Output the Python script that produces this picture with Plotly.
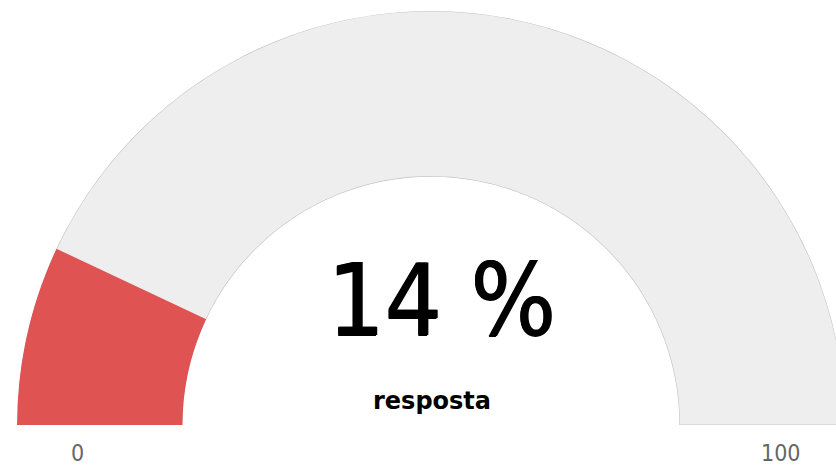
import plotly.graph_objects as go

# ---- data ----
value = 14
min_value = 0
max_value = 100
value_suffix = " %"
series_label = "resposta"
tick_labels = ["0", "100"]

span_deg = 180.0
scale = span_deg / (max_value - min_value)

W, H = 850, 472
ML, MR, MT, MB = 17, 5, 11, 47
PW = W - ML - MR
PH = H - MT - MB


def px_x(px):
    return (px - ML) / PW


def px_y(py):
    return (H - MB - py) / PH


fig = go.Figure()
fig.add_trace(go.Barpolar(
    r=[1], base=[0],
    theta=[(max_value - min_value) * scale / 2],
    width=[(max_value - min_value) * scale],
    marker=dict(color="#EEEEEE", line=dict(color="#C6C6C6", width=1.2)),
    hoverinfo="skip", showlegend=False,
))
fig.add_trace(go.Barpolar(
    r=[1], base=[0],
    theta=[(value - min_value) * scale / 2],
    width=[(value - min_value) * scale],
    marker=dict(color="#DF5353", line=dict(color="#DF5353", width=0)),
    hoverinfo="skip", showlegend=False,
))

fig.update_layout(
    width=W, height=H,
    margin=dict(l=ML, r=MR, t=MT, b=MB, pad=0),
    paper_bgcolor="white",
    polar=dict(
        domain=dict(x=[0, 1], y=[0, 1]),
        sector=[0, 180],
        hole=0.6,
        bgcolor="white",
        angularaxis=dict(rotation=180, direction="clockwise", visible=False,
                         showgrid=False, showline=False, ticks=""),
        radialaxis=dict(range=[0, 1], visible=False, showgrid=False,
                        showline=False, ticks=""),
    ),
    showlegend=False,
)

fig.add_annotation(text=f"{value}{value_suffix}", x=px_x(441), y=px_y(300),
                   xref="paper", yref="paper", showarrow=False,
                   xanchor="center", yanchor="middle",
                   font=dict(family="DejaVu Sans Condensed, DejaVu Sans", size=100, color="#000000",
                             shadow="1.2px 0px 0px #000, 0px 0.6px 0px #000"))
fig.add_annotation(text=f"<b>{series_label}</b>", x=px_x(432), y=px_y(401),
                   xref="paper", yref="paper", showarrow=False,
                   xanchor="center", yanchor="middle",
                   font=dict(family="DejaVu Sans", size=24, color="#000000"))
fig.add_annotation(text=tick_labels[0], x=px_x(77), y=px_y(453),
                   xref="paper", yref="paper", showarrow=False,
                   xanchor="center", yanchor="middle",
                   font=dict(family="DejaVu Sans Condensed, DejaVu Sans", size=23, color="#666666"))
fig.add_annotation(text=tick_labels[1], x=px_x(781), y=px_y(453),
                   xref="paper", yref="paper", showarrow=False,
                   xanchor="center", yanchor="middle",
                   font=dict(family="DejaVu Sans Condensed, DejaVu Sans", size=23, color="#666666"))

fig.write_html("out.html", config={"displayModeBar": False},
               post_script="document.body.style.margin='0';document.body.style.overflow='hidden';document.documentElement.style.overflow='hidden';")
